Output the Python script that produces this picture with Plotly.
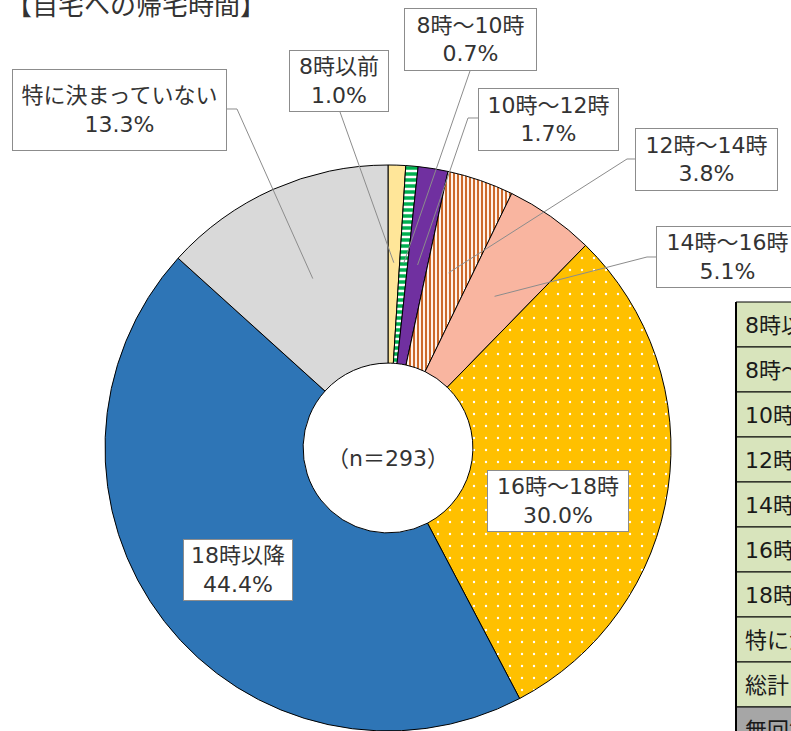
import math
import plotly.graph_objects as go

W, H = 791, 731

# ---- data ----
title_text = "【自宅への帰宅時間】"
categories = ["8時以前", "8時～10時", "10時～12時", "12時～14時",
              "14時～16時", "16時～18時", "18時以降", "特に決まっていない"]
values = [1.0, 0.7, 1.7, 3.8, 5.1, 30.0, 44.4, 13.3]
n_text = "（n＝293）"
table_rows = ["8時以前", "8時～10時", "10時～12時", "12時～14時", "14時～16時",
              "16時～18時", "18時以降", "特に決まっていない", "総計", "無回答"]

# ---- styles ----
base_colors = ["#FFE699", "#00B050", "#7030A0", "#FFF3EA",
               "#F9B5A0", "#FFC000", "#2E75B6", "#D9D9D9"]
pat_shape = ["", "-", "", "|", "", ".", "", ""]
pat_fg = ["#FFE699", "#FFFFFF", "#7030A0", "#CC6A2C",
          "#F9B5A0", "#FFFFFF", "#2E75B6", "#D9D9D9"]
pat_bg = ["#FFE699", "#00B050", "#7030A0", "#FFF3EA",
          "#F9B5A0", "#FFC000", "#2E75B6", "#D9D9D9"]
pat_size = [8, 6, 8, 4, 8, 12, 8, 8]
pat_sol = [0.3, 0.42, 0.3, 0.5, 0.3, 0.03, 0.3, 0.3]

FONT = "DejaVu Sans, Noto Sans CJK JP"
CJK = "Noto Sans CJK JP"
TXT = "#333333"
GREY = "#8C8C8C"

cx, cy, R = 388, 448, 283  # donut centre / radius in px


def px(x):
    return x / W


def py(y):
    return 1 - y / H


fig = go.Figure()
fig.add_trace(go.Pie(
    labels=categories, values=values, sort=False, direction="clockwise",
    rotation=0, hole=0.30, textinfo="none", hoverinfo="skip", showlegend=False,
    marker=dict(colors=base_colors, line=dict(color="black", width=1),
                pattern=dict(shape=pat_shape, fgcolor=pat_fg, bgcolor=pat_bg,
                             size=pat_size, solidity=pat_sol)),
    domain=dict(x=[(cx - R) / W, (cx + R) / W],
                y=[(H - cy - R) / H, (H - cy + R) / H]),
))

# anchor points for leader lines (mid-angle of each slice)
total = sum(values)
anchors = []
cum = 0.0
for v in values:
    a = (cum + v / 2) / total * 2 * math.pi
    anchors.append((cx + 0.655 * R * math.sin(a), cy - 0.655 * R * math.cos(a)))
    cum += v

# label boxes: (x0, y0, x1, y1) in px, leader line start points (px) or None
boxes = [
    (289, 50, 389, 112),
    (404, 8, 537, 71),
    (478, 88, 619, 151),
    (635, 128, 778, 191),
    (656, 226, 799, 288),
    (487, 470, 629, 532),
    (183, 539, 293, 601),
    (12, 69, 227, 151),
]
leaders = [
    [(340, 112)],
    [(470, 71)],
    [(478, 118), (468, 118)],
    [(635, 159), (627, 159)],
    [(656, 257), (647, 257)],
    None,
    None,
    [(227, 109), (237, 109)],
]

shapes = []
annotations = []

for i, (cat, v) in enumerate(zip(categories, values)):
    x0, y0, x1, y1 = boxes[i]
    annotations.append(dict(
        text=f"{cat}<br>{v:.1f}%", x=px((x0 + x1) / 2), y=py((y0 + y1) / 2),
        xref="paper", yref="paper", xanchor="center", yanchor="middle",
        showarrow=False, width=x1 - x0 - 2, height=y1 - y0 - 2,
        bgcolor="white", bordercolor=GREY, borderwidth=1, borderpad=0,
        font=dict(family=FONT, size=22, color=TXT), align="center", valign="middle",
    ))
    if leaders[i]:
        pts = leaders[i] + [anchors[i]]
        path = "M " + " L ".join(f"{px(x):.5f},{py(y):.5f}" for x, y in pts)
        shapes.append(dict(type="path", path=path, xref="paper", yref="paper",
                           line=dict(color=GREY, width=1)))

# n text in hole
annotations.append(dict(text=n_text, x=px(cx), y=py(458), xref="paper", yref="paper",
                        xanchor="center", yanchor="middle", showarrow=False,
                        font=dict(family=FONT, size=22, color=TXT)))

# title (partly cut off at the top)
annotations.append(dict(text=title_text, x=px(4), y=py(4), xref="paper", yref="paper",
                        xanchor="left", yanchor="middle", showarrow=False,
                        font=dict(family=CJK, size=26, color=TXT)))

# partial table at the right edge
row_top, row_h, tx0, tx1 = 302, 45, 736, 900
for k, lab in enumerate(table_rows):
    y0 = row_top + k * row_h
    fill = "#A6A6A6" if lab == "無回答" else "#D8E4BC"
    shapes.append(dict(type="rect", xref="paper", yref="paper",
                       x0=px(tx0), x1=px(tx1), y0=py(y0), y1=py(y0 + row_h),
                       fillcolor=fill, line=dict(color="black", width=1), layer="above"))
    annotations.append(dict(text=lab, x=px(tx0 + 7), y=py(y0 + row_h / 2 + 1),
                            xref="paper", yref="paper", xanchor="left", yanchor="middle",
                            showarrow=False, font=dict(family=FONT, size=22, color="#1A1A1A")))
shapes.append(dict(type="line", xref="paper", yref="paper", x0=px(tx0), x1=px(tx0),
                   y0=py(row_top), y1=py(row_top + row_h * len(table_rows)),
                   line=dict(color="black", width=2)))

fig.update_layout(
    width=W, height=H, margin=dict(l=0, r=0, t=0, b=0),
    paper_bgcolor="white", plot_bgcolor="white",
    shapes=shapes, annotations=annotations, showlegend=False,
    font=dict(family=FONT),
)

fig.write_html("out.html", config={"displayModeBar": False},
               post_script="document.body.style.margin='0px';")
